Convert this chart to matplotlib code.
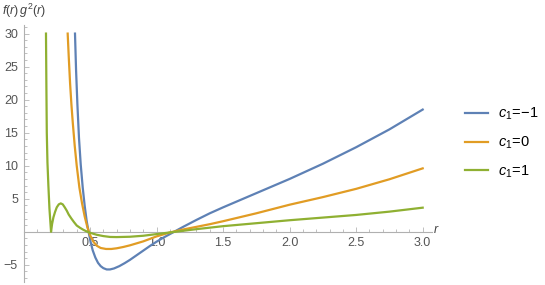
import matplotlib
matplotlib.use('Agg')
import matplotlib.pyplot as plt
from matplotlib.ticker import MultipleLocator, FixedLocator

plt.rcParams['font.family'] = 'Liberation Sans'
plt.rcParams['mathtext.fontset'] = 'custom'
plt.rcParams['mathtext.it'] = 'Liberation Sans:italic'
plt.rcParams['mathtext.rm'] = 'Liberation Sans'

# values
r_blue = [0.387, 0.395, 0.405, 0.417, 0.43, 0.445, 0.46, 0.475, 0.49, 0.505, 0.52, 0.54,
          0.56, 0.58, 0.60, 0.625, 0.65, 0.68, 0.72, 0.76, 0.80, 0.85, 0.90, 0.95, 1.0,
          1.05, 1.1, 1.2, 1.3, 1.4, 1.5, 1.75, 2.0, 2.25, 2.5, 2.75, 3.0]
y_blue = [30, 24.5, 19.3, 14.2, 10.2, 6.7, 3.9, 1.6, -0.1, -1.6, -2.8, -3.9,
          -4.7, -5.2, -5.5, -5.7, -5.7, -5.55, -5.2, -4.75, -4.25, -3.55, -2.85, -2.15, -1.5,
          -0.9, -0.35, 0.75, 1.8, 2.8, 3.7, 5.85, 8.0, 10.3, 12.8, 15.5, 18.5]

r_orange = [0.332, 0.34, 0.35, 0.36, 0.37, 0.385, 0.40, 0.42, 0.44, 0.46, 0.48, 0.50,
            0.525, 0.55, 0.58, 0.62, 0.66, 0.70, 0.75, 0.80, 0.90, 1.0, 1.1, 1.2, 1.3,
            1.4, 1.5, 1.75, 2.0, 2.25, 2.5, 2.75, 3.0]
y_orange = [30, 26.5, 22.5, 19.3, 16.6, 13.0, 10.0, 6.7, 4.3, 2.3, 0.7, -0.5,
            -1.5, -2.1, -2.45, -2.6, -2.6, -2.5, -2.3, -2.05, -1.45, -0.7, -0.1, 0.35, 0.75,
            1.15, 1.6, 2.8, 4.1, 5.25, 6.5, 7.95, 9.6]

r_green = [0.169, 0.172, 0.175, 0.18, 0.187, 0.195, 0.207, 0.215, 0.225, 0.237, 0.25,
           0.265, 0.28, 0.295, 0.31, 0.325, 0.34, 0.36, 0.38, 0.40, 0.425, 0.45, 0.475,
           0.50, 0.55, 0.60, 0.65, 0.70, 0.80, 0.90, 1.0, 1.1, 1.2, 1.3, 1.5, 1.75, 2.0,
           2.25, 2.5, 2.75, 3.0]
y_green = [30, 22, 15, 10.5, 7.0, 3.5, 0.0, 1.2, 2.2, 3.0, 3.7,
           4.15, 4.3, 4.15, 3.7, 3.2, 2.6, 2.0, 1.45, 0.95, 0.6, 0.3, 0.05,
           -0.15, -0.45, -0.65, -0.78, -0.8, -0.75, -0.6, -0.35, -0.1, 0.15, 0.4, 0.85, 1.3, 1.75,
           2.15, 2.55, 3.05, 3.65]

labels = [r'$\mathit{c}_{\mathit{1}}\!=\!\mathit{-1}$',
          r'$\mathit{c}_{\mathit{1}}\!=\!\mathit{0}$',
          r'$\mathit{c}_{\mathit{1}}\!=\!\mathit{1}$']
colors = ['#5E81B5', '#E19C24', '#8FB032']

fig = plt.figure(figsize=(5.45, 2.85), dpi=100)
ax = fig.add_axes([23.5/545, 3/285, 408.5/545, 257/285])

series = [(r_blue, y_blue), (r_orange, y_orange), (r_green, y_green)]
for (xs, ys), lab, c in zip(series, labels, colors):
    ax.plot(xs, ys, color=c, lw=1.6, label=lab, zorder=3, solid_joinstyle='round')

ax.set_xlim(0, 3.07)
ax.set_ylim(-7.6, 31.3)

for s in ['top', 'right']:
    ax.spines[s].set_visible(False)
ax.spines['bottom'].set_position(('data', 0))
for s in ['left', 'bottom']:
    ax.spines[s].set_color('#b0b0b0')
    ax.spines[s].set_linewidth(0.8)

ax.xaxis.set_major_locator(FixedLocator([0.5, 1.0, 1.5, 2.0, 2.5, 3.0]))
ax.xaxis.set_minor_locator(MultipleLocator(0.1))
ax.yaxis.set_major_locator(FixedLocator([-5, 5, 10, 15, 20, 25, 30]))
ax.yaxis.set_minor_locator(MultipleLocator(1))
ax.tick_params(which='both', direction='in', color='#c0c0c0', labelcolor='#555555',
               labelsize=9, width=0.7)
ax.tick_params(which='major', length=3.8)
ax.tick_params(which='minor', length=2.2)
ax.tick_params(axis='y', pad=4)
ax.tick_params(axis='x', pad=4)

fig.text(2/545, 1 - 11/285, r'$\mathit{f(r)\,g^{2}(r)}$', fontsize=9, color='#444444',
         ha='left', va='center')
fig.text(433/545, 1 - 230/285, r'$\mathit{r}$', fontsize=9, color='#444444',
         ha='left', va='center')

fig.legend(loc='upper left', bbox_to_anchor=(465/545, 1 - 106/285), frameon=False,
           fontsize=10.5, handlelength=1.55, handletextpad=0.7, labelspacing=0.85,
           borderpad=0, borderaxespad=0)

fig.savefig('out.png', dpi=100)
